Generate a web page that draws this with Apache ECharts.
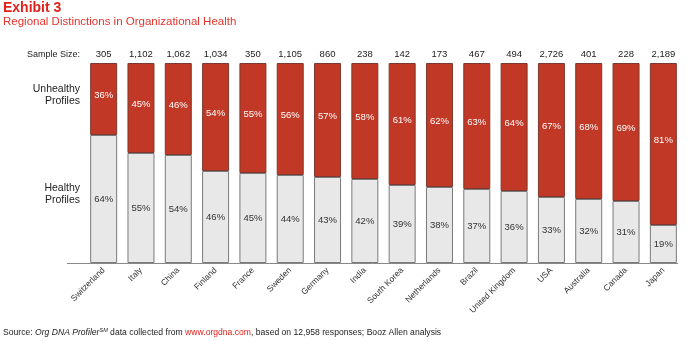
<!DOCTYPE html>
<html><head><meta charset="utf-8">
<script src="https://cdn.jsdelivr.net/npm/echarts@6/dist/echarts.min.js"></script>
<style>html,body{margin:0;padding:0;background:#fff}#c{width:700px;height:341px}</style>
</head><body><div id="c"></div>
<script>
const countries = ["Switzerland","Italy","China","Finland","France","Sweden","Germany","India","South Korea","Netherlands","Brazil","United Kingdom","USA","Australia","Canada","Japan"];
const sampleSizes = ["305","1,102","1,062","1,034","350","1,105","860","238","142","173","467","494","2,726","401","228","2,189"];
const healthy = [64,55,54,46,45,44,43,42,39,38,37,36,33,32,31,19];
const unhealthy = [36,45,46,54,55,56,57,58,61,62,63,64,67,68,69,81];

const FONT = "Liberation Sans";
const chart = echarts.init(document.getElementById('c'), null, {renderer:'canvas'});
chart.setOption({
  animation:false,
  textStyle:{fontFamily:FONT},
  grid:{left:85, right:18, top:63, bottom:78},
  xAxis:[{
    type:'category', data:countries, position:'bottom',
    axisLine:{show:false}, axisTick:{show:false},
    axisLabel:{rotate:45, fontSize:8.5, color:'#333', fontFamily:FONT, margin:6, interval:0}
  },{
    type:'category', data:sampleSizes, position:'top',
    axisLine:{show:false}, axisTick:{show:false},
    axisLabel:{fontSize:9.5, color:'#222', fontFamily:FONT, margin:4, interval:0}
  }],
  yAxis:{type:'value', min:0, max:100, show:false},
  series:[{
    name:'Healthy', type:'bar', stack:'a', data:healthy, barWidth:27,
    itemStyle:{color:'#E8E8E8', borderColor:'#7a7a7a', borderWidth:1},
    label:{show:true, position:'inside', formatter:'{c}%', fontSize:9.5, color:'#333', fontFamily:FONT}
  },{
    name:'Unhealthy', type:'bar', stack:'a', data:unhealthy, barWidth:27,
    itemStyle:{color:'#C23826', borderColor:'#7a3a30', borderWidth:1},
    label:{show:true, position:'inside', formatter:'{c}%', fontSize:9.5, color:'#fff', fontFamily:FONT, offset:[0,-4]}
  }],
  graphic:[
    {type:'text', x:3, y:1, style:{text:'Exhibit 3', font:'bold 14px "Liberation Sans"', fill:'#E3201B'}},
    {type:'text', x:3, y:16, style:{text:'Regional Distinctions in Organizational Health', font:'11.5px "Liberation Sans"', fill:'#E3342C'}},
    {type:'text', x:80, y:55, style:{text:'Sample Size:', font:'9px "Liberation Sans"', fill:'#222', align:'right', verticalAlign:'middle'}},
    {type:'text', x:80, y:89, style:{text:'Unhealthy', font:'10.5px "Liberation Sans"', fill:'#222', align:'right', verticalAlign:'middle'}},
    {type:'text', x:80, y:101, style:{text:'Profiles', font:'10.5px "Liberation Sans"', fill:'#222', align:'right', verticalAlign:'middle'}},
    {type:'text', x:80, y:188, style:{text:'Healthy', font:'10.5px "Liberation Sans"', fill:'#222', align:'right', verticalAlign:'middle'}},
    {type:'text', x:80, y:200, style:{text:'Profiles', font:'10.5px "Liberation Sans"', fill:'#222', align:'right', verticalAlign:'middle'}},
    {type:'line', shape:{x1:67, y1:263.5, x2:678, y2:263.5}, style:{stroke:'#888', lineWidth:1}},
    {type:'text', x:3, y:333, style:{
      verticalAlign:'middle',
      rich:{
        n:{fontSize:8.6, fill:'#222', fontFamily:FONT},
        i:{fontSize:8.6, fill:'#222', fontFamily:FONT, fontStyle:'italic'},
        s:{fontSize:5.5, fill:'#222', fontFamily:FONT, fontStyle:'italic', verticalAlign:'top', padding:[0,0,5,0]},
        r:{fontSize:8.6, fill:'#E3201B', fontFamily:FONT}
      },
      text:'{n|Source: }{i|Org DNA Profiler}{s|SM}{n| data collected from }{r|www.orgdna.com}{n|, based on 12,958 responses; Booz Allen analysis}'
    }}
  ]
});
</script></body></html>
